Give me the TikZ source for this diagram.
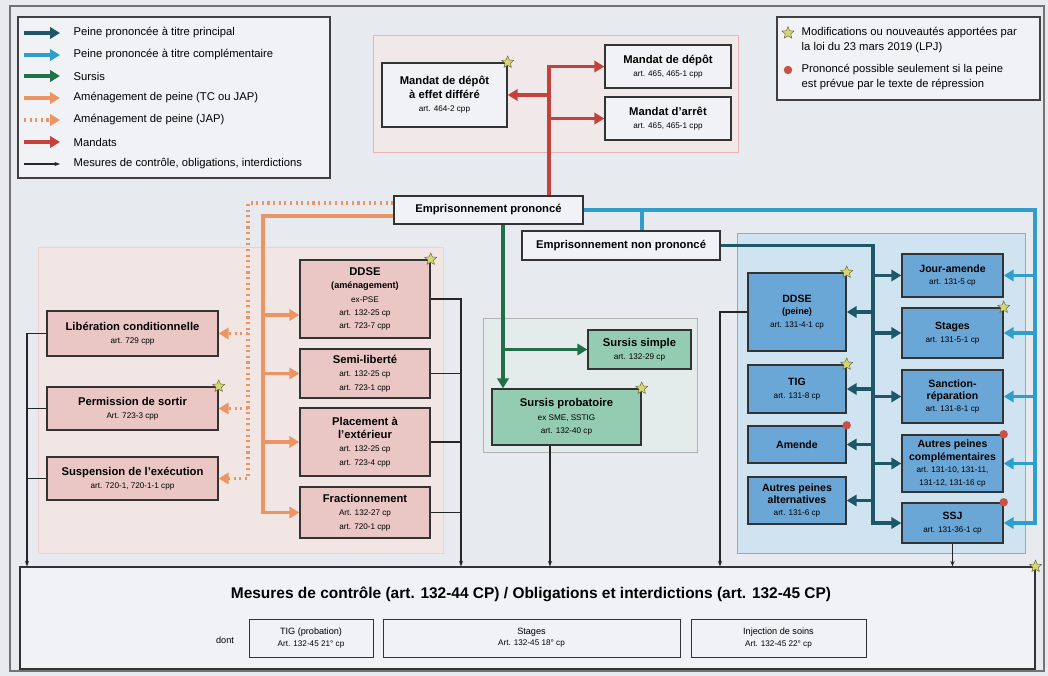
\documentclass[tikz,border=0pt]{standalone}
\usepackage{fontspec}
\setmainfont{Liberation Sans}
\usepackage{xcolor}
\usepackage{tikz}
\usetikzlibrary{positioning, arrows.meta, shapes.geometric}

\definecolor{cprin}{RGB}{30,88,104}
\definecolor{ccompl}{RGB}{48,158,205}
\definecolor{csursis}{RGB}{32,112,72}
\definecolor{corange}{RGB}{236,148,98}
\definecolor{cmandat}{RGB}{196,66,60}
\definecolor{bgc}{RGB}{231,234,239}
\definecolor{boxgrey}{RGB}{241,242,245}
\definecolor{boxpink}{RGB}{234,198,196}
\definecolor{boxgreen}{RGB}{148,204,178}
\definecolor{boxblue}{RGB}{106,166,214}
\definecolor{zonepink}{RGB}{241,230,228}
\definecolor{zonegreen}{RGB}{227,236,234}
\definecolor{zoneblue}{RGB}{208,227,240}
\definecolor{zonemand}{RGB}{241,233,233}
\definecolor{cstar}{RGB}{214,214,120}
\definecolor{cdot}{RGB}{200,80,70}

\newcommand{\artref}[1]{{\fontsize{5.8}{7}\selectfont\mdseries #1}}

\begin{document}
\begin{tikzpicture}[
    x=0.025cm, y=-0.025cm,
    block/.style={rectangle, draw=black!80, line width=1pt, align=center, inner sep=1pt, font=\fontsize{8}{9.5}\selectfont\bfseries, fill=#1},
    block/.default=boxgrey,
    peine/.style={block=boxblue, font=\fontsize{7.5}{8.8}\selectfont\bfseries},
    dims/.style 2 args={minimum width=#1*0.025cm, minimum height=#2*0.025cm},
    zone/.style 2 args={draw=#1, fill=#2, line width=0.5pt},
    arr/.style={-{Triangle[length=7pt, width=8pt]}, line width=2.2pt, draw=#1},
    bus/.style={line width=2.2pt, draw=#1},
    jap/.style={arr=corange, dash pattern=on 1.5pt off 2.5pt},
    ctl/.style={-{Stealth[length=4pt]}, line width=0.8pt, draw=black!85},
    ctlline/.style={line width=0.8pt, draw=black!85},
    lbl/.style={font=\fontsize{8}{10}\selectfont, anchor=west, align=left, inner sep=1pt},
    newmark/.style={star, star points=5, star point ratio=2.2, fill=cstar, draw=olive!60!black, line width=0.3pt, minimum size=9pt, inner sep=0pt},
    restr/.style={circle, fill=cdot, minimum size=6pt, inner sep=0pt},
]
    \fill[bgc] (0,0) rectangle (1048,676);
    \useasboundingbox (0,0) rectangle (1048,676);
    \draw[black!55, line width=0.8pt] (10,6) rectangle (1044,671);

    % Zones
    \draw[zone={cmandat!40}{zonemand}] (373,35) rectangle (738,152);
    \draw[zone={cmandat!25}{zonepink}] (38,247) rectangle (443,553);
    \draw[zone={black!30}{zonegreen}] (483,318) rectangle (697,452);
    \draw[zone={black!35}{zoneblue}] (737,233) rectangle (1025,553);

    % Legend
    \draw[black!75, line width=0.8pt, fill=boxgrey] (18,17) rectangle (330,178);
    \node[lbl] (l1) at (72,33) {Peine prononcée à titre principal};
    \node[lbl] (l2) at (72,55) {Peine prononcée à titre complémentaire};
    \node[lbl] (l3) at (72,76) {Sursis};
    \node[lbl] (l4) at (72,98) {Aménagement de peine (TC ou JAP)};
    \node[lbl] (l5) at (72,120) {Aménagement de peine (JAP)};
    \node[lbl] (l6) at (72,142) {Mandats};
    \node[lbl] (l7) at (72,164) {Mesures de contrôle, obligations, interdictions};
    \draw[arr=cprin] ([xshift=-1.2cm]l1.west) -- ([xshift=-0.3cm]l1.west);
    \draw[arr=ccompl] ([xshift=-1.2cm]l2.west) -- ([xshift=-0.3cm]l2.west);
    \draw[arr=csursis] ([xshift=-1.2cm]l3.west) -- ([xshift=-0.3cm]l3.west);
    \draw[arr=corange] ([xshift=-1.2cm]l4.west) -- ([xshift=-0.3cm]l4.west);
    \draw[jap] ([xshift=-1.2cm]l5.west) -- ([xshift=-0.3cm]l5.west);
    \draw[arr=cmandat] ([xshift=-1.2cm]l6.west) -- ([xshift=-0.3cm]l6.west);
    \draw[ctl] ([xshift=-1.2cm]l7.west) -- ([xshift=-0.3cm]l7.west);

    \draw[black!75, line width=0.8pt, fill=boxgrey] (777,17) rectangle (1040,100);
    \node[newmark] (k1) at (788,33) {};
    \node[lbl, anchor=north west] (k1t) at (800,26) {Modifications ou nouveautés apportées par\\la loi du 23 mars 2019 (LPJ)};
    \node[restr] (k2) at (788,70) {};
    \node[lbl, anchor=north west] (k2t) at (800,63) {Prononcé possible seulement si la peine\\est prévue par le texte de répression};

    % Mandats
    \node[block, dims={125}{64}] (mdd) at (444.5,95) {Mandat de dépôt\\à effet différé\\\artref{art. 464-2 cpp}};
    \node[block, dims={126}{43}] (md) at (668,66.5) {Mandat de dépôt\\\artref{art. 465, 465-1 cpp}};
    \node[block, dims={126}{43}] (ma) at (668,118.5) {Mandat d'arrêt\\\artref{art. 465, 465-1 cpp}};

    % Emprisonnement
    \node[block, dims={189}{28}] (ep) at (488.5,210) {Emprisonnement prononcé};
    \node[block, dims={198}{29}] (enp) at (621,245.5) {Emprisonnement non prononcé};

    % Amenagements (JAP)
    \node[block=boxpink, dims={171}{45}] (lc) at (132.5,333.5) {Libération conditionnelle\\\artref{art. 729 cpp}};
    \node[block=boxpink, dims={171}{43}] (ps) at (132.5,408.5) {Permission de sortir\\\artref{Art. 723-3 cpp}};
    \node[block=boxpink, dims={171}{43}] (se) at (132.5,478.5) {Suspension de l'exécution\\\artref{art. 720-1, 720-1-1 cpp}};

    % Amenagements (TC ou JAP)
    \node[block=boxpink, dims={130}{78}] (ddsea) at (365,299) {DDSE\\{\fontsize{6.5}{8}\selectfont (aménagement)}\\\artref{ex-PSE}\\\artref{art. 132-25 cp}\\\artref{art. 723-7 cpp}};
    \node[block=boxpink, dims={130}{49}] (semi) at (365,373.5) {Semi-liberté\\\artref{art. 132-25 cp}\\\artref{art. 723-1 cpp}};
    \node[block=boxpink, dims={130}{68}] (pe) at (365,442) {Placement à\\l'extérieur\\\artref{art. 132-25 cp}\\\artref{art. 723-4 cpp}};
    \node[block=boxpink, dims={130}{51}] (frac) at (365,512.5) {Fractionnement\\\artref{Art. 132-27 cp}\\\artref{art. 720-1 cpp}};

    % Sursis
    \node[block=boxgreen, dims={103}{39}] (ss) at (639.5,349.5) {Sursis simple\\\artref{art. 132-29 cp}};
    \node[block=boxgreen, dims={149}{56}] (sp) at (566.5,417) {Sursis probatoire\\\artref{ex SME, SSTIG}\\\artref{art. 132-40 cp}};

    % Peines principales
    \node[peine, dims={98}{78}] (ddsep) at (797,312) {DDSE\\{\fontsize{6.5}{8}\selectfont (peine)}\\\artref{art. 131-4-1 cp}};
    \node[peine, dims={98}{48}] (tig) at (797,389) {TIG\\\artref{art. 131-8 cp}};
    \node[peine, dims={98}{37}] (am) at (797,444.5) {Amende};
    \node[peine, dims={98}{47}] (apa) at (797,500.5) {Autres peines\\alternatives\\\artref{art. 131-6 cp}};

    % Peines complementaires
    \node[peine, dims={101}{43}] (ja) at (952.5,275.5) {Jour-amende\\\artref{art. 131-5 cp}};
    \node[peine, dims={101}{50}] (stg) at (952.5,333) {Stages\\\artref{art. 131-5-1 cp}};
    \node[peine, dims={101}{53}] (sr) at (952.5,396.5) {Sanction-\\réparation\\\artref{art. 131-8-1 cp}};
    \node[peine, dims={101}{57}] (apc) at (952.5,463.5) {Autres peines\\complémentaires\\\artref{art. 131-10, 131-11,}\\\artref{131-12, 131-16 cp}};
    \node[peine, dims={101}{40}] (ssj) at (952.5,523) {SSJ\\\artref{art. 131-36-1 cp}};

    % Mesures de controle
    \node[block, dims={1015}{102}, line width=0.8pt] (mc) at (527.5,618) {};
    \node[font=\fontsize{11}{13}\selectfont\bfseries] (mct) at (531,594) {Mesures de contrôle (art. 132-44 CP) / Obligations et interdictions (art. 132-45 CP)};
    \node[font=\fontsize{6.5}{8}\selectfont] (dont) at (225,640) {dont};
    \node[block, line width=0.6pt, font=\fontsize{6.5}{8}\selectfont, dims={124}{38}] (ob1) at (311,638) {TIG (probation)\\\artref{Art. 132-45 21° cp}};
    \node[block, line width=0.6pt, font=\fontsize{6.5}{8}\selectfont, dims={297}{38}] (ob2) at (531.5,638) {Stages\\\artref{Art. 132-45 18° cp}};
    \node[block, line width=0.6pt, font=\fontsize{6.5}{8}\selectfont, dims={175}{38}] (ob3) at (778.5,638) {Injection de soins\\\artref{Art. 132-45 22° cp}};

    % Bus points
    \coordinate (rbus) at (549,0);
    \coordinate (cbus) at (1035,209);
    \coordinate (nbus) at (642,0);
    \coordinate (tbus) at (873,245.5);
    \coordinate (sbus) at (503,0);
    \coordinate (otop) at (263,216);
    \coordinate (dtop) at (248,203);
    \coordinate (kl) at (27,0);
    \coordinate (kr) at (461,0);
    \coordinate (kp) at (550,0);
    \coordinate (kb) at (720,0);
    \coordinate (ddin) at ([yshift=-0.4cm]ddsea.west);

    % Arrows: mandats
    \draw[arr=cmandat] (ep.north -| rbus) -- (rbus |- md.west) -- (md.west);
    \draw[arr=cmandat] (rbus |- ma.west) -- (ma.west);
    \draw[arr=cmandat] (rbus |- mdd.east) -- (mdd.east);

    % Arrows: peines complementaires
    \draw[arr=ccompl] (ep.east) -- (ep.east -| cbus) -- (cbus |- ssj.east) -- (ssj.east);
    \draw[arr=ccompl] (cbus |- ja.east) -- (ja.east);
    \draw[arr=ccompl] (cbus |- stg.east) -- (stg.east);
    \draw[arr=ccompl] (cbus |- sr.east) -- (sr.east);
    \draw[arr=ccompl] (cbus |- apc.east) -- (apc.east);
    \draw[bus=ccompl] (ep.east -| nbus) -- (enp.north -| nbus);

    % Arrows: peines principales
    \draw[arr=cprin] (enp.east) -- (tbus) -- (tbus |- ssj.west) -- (ssj.west);
    \draw[arr=cprin] (tbus |- ja.west) -- (ja.west);
    \draw[arr=cprin] (tbus |- stg.west) -- (stg.west);
    \draw[arr=cprin] (tbus |- sr.west) -- (sr.west);
    \draw[arr=cprin] (tbus |- apc.west) -- (apc.west);
    \draw[arr=cprin] (tbus |- ddsep.east) -- (ddsep.east);
    \draw[arr=cprin] (tbus |- tig.east) -- (tig.east);
    \draw[arr=cprin] (tbus |- am.east) -- (am.east);
    \draw[arr=cprin] (tbus |- apa.east) -- (apa.east);

    % Arrows: sursis
    \draw[arr=csursis] (ep.south -| sbus) -- (sp.north -| sbus);
    \draw[arr=csursis] (sbus |- ss.west) -- (ss.west);

    % Arrows: amenagements
    \draw[arr=corange] (ep.west |- otop) -- (otop) -- (otop |- frac.west) -- (frac.west);
    \draw[arr=corange] (otop |- ddin) -- (ddin);
    \draw[arr=corange] (otop |- semi.west) -- (semi.west);
    \draw[arr=corange] (otop |- pe.west) -- (pe.west);
    \draw[jap] (ep.west |- dtop) -- (dtop) -- (dtop |- se.east) -- (se.east);
    \draw[jap] (dtop |- lc.east) -- (lc.east);
    \draw[jap] (dtop |- ps.east) -- (ps.east);

    % Arrows: mesures de controle
    \draw[ctl] (lc.west) -- (lc.west -| kl) -- (kl |- mc.north);
    \draw[ctlline] (ps.west) -- (ps.west -| kl);
    \draw[ctlline] (se.west) -- (se.west -| kl);
    \draw[ctl] (ddsea.east) -- (ddsea.east -| kr) -- (kr |- mc.north);
    \draw[ctlline] (semi.east) -- (semi.east -| kr);
    \draw[ctlline] (pe.east) -- (pe.east -| kr);
    \draw[ctlline] (frac.east) -- (frac.east -| kr);
    \draw[ctl] (sp.south -| kp) -- (kp |- mc.north);
    \draw[ctl] (ddsep.west) -- (ddsep.west -| kb) -- (kb |- mc.north);
    \draw[ctl] (ssj.south) -- (ssj.south |- mc.north);

    % Nouveautes et restrictions
    \node[newmark] (s1) at (mdd.north east) {};
    \node[newmark] (s2) at (ps.north east) {};
    \node[newmark] (s3) at (ddsea.north east) {};
    \node[newmark] (s4) at (sp.north east) {};
    \node[newmark] (s5) at (ddsep.north east) {};
    \node[newmark] (s6) at (tig.north east) {};
    \node[newmark] (s7) at (stg.north east) {};
    \node[newmark] (s8) at (mc.north east) {};
    \node[restr] (d1) at (am.north east) {};
    \node[restr] (d2) at (apc.north east) {};
    \node[restr] (d3) at (ssj.north east) {};

\end{tikzpicture}
\end{document}
